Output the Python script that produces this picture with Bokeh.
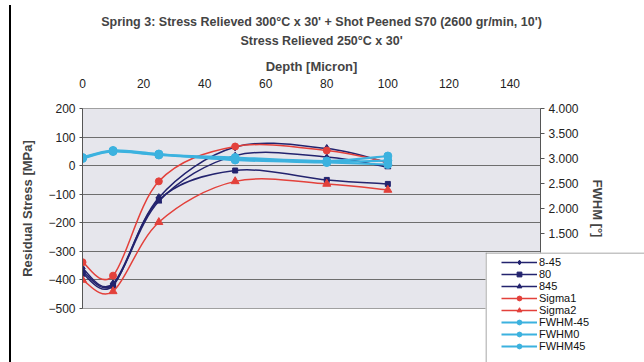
from bokeh.plotting import figure
from bokeh.models import (Range1d, LinearAxis, FixedTicker, NumeralTickFormatter,
                          Legend, LegendItem, ColumnDataSource, Span, Div, Label)
from bokeh.embed import file_html
from bokeh.resources import INLINE

# ---------------- data ----------------
depth = [0, 10, 25, 50, 80, 100]
b_m45 = [-360, -413, -112, 65, 60, 10]
b_0 = [-378, -420, -120, -17, -50, -64]
b_45 = [-370, -416, -125, 35, 30, -5]
sigma1 = [-338, -385, -55, 67, 53, 12]
sigma2 = [-400, -440, -198, -55, -64, -85]
fwhm_m45 = [3.01, 3.15, 3.08, 3.02, 2.95, 3.05]
fwhm_0 = [3.00, 3.14, 3.07, 2.99, 2.93, 2.96]
fwhm_45 = [3.02, 3.16, 3.09, 2.97, 2.92, 2.88]

x_ticks = [0, 20, 40, 60, 80, 100, 120, 140]
left_ticks = [-500, -400, -300, -200, -100, 0, 100, 200]
right_ticks = [0, 0.5, 1.0, 1.5, 2.0, 2.5, 3.0, 3.5, 4.0]

title1 = "Spring 3: Stress Relieved 300\u00b0C x 30' + Shot Peened S70 (2600 gr/min, 10')"
title2 = "Stress Relieved 250\u00b0C x 30'"

NAVY = "#23236e"
RED = "#e3413b"
CYAN = "#3cb2df"
FONT = "Liberation Sans"

p = figure(width=644, height=362, output_backend="svg", toolbar_location=None,
           x_range=Range1d(0, 150), y_range=Range1d(-500, 200),
           x_axis_location="above", title=None,
           min_border_left=82, min_border_right=104, min_border_top=108,
           min_border_bottom=54)
p.extra_y_ranges = {"fwhm": Range1d(0, 4)}

p.background_fill_color = "#e6e6ec"
p.border_fill_color = "white"
p.outline_line_color = "#a0a0a0"
p.xgrid.grid_line_color = None
p.ygrid.grid_line_color = "#6e6e6e"
p.ygrid.ticker = FixedTicker(ticks=left_ticks)

# top (x) axis
xa = p.xaxis[0]
xa.ticker = FixedTicker(ticks=x_ticks)
xa.axis_label = "Depth [Micron]"
xa.axis_label_text_font = FONT
xa.axis_label_text_font_style = "bold"
xa.axis_label_text_font_size = "13px"
xa.axis_label_standoff = 2
xa.major_label_text_font = FONT
xa.major_label_text_font_size = "12px"
xa.major_label_text_color = "#222222"
xa.major_label_standoff = 21
xa.major_tick_out = 0
xa.major_tick_in = 0
xa.minor_tick_out = 0
xa.minor_tick_in = 0
xa.axis_line_color = None

# left axis
ya = p.yaxis[0]
ya.ticker = FixedTicker(ticks=left_ticks)
ya.axis_label = "Residual Stress [MPa]"
ya.axis_label_text_font = FONT
ya.axis_label_text_font_style = "bold"
ya.axis_label_text_font_size = "13px"
ya.axis_label_standoff = 10
ya.major_label_text_font = FONT
ya.major_label_text_font_size = "12px"
ya.major_label_text_color = "#222222"
ya.major_label_standoff = 4
ya.major_tick_out = 3
ya.major_tick_in = 0
ya.minor_tick_out = 0
ya.minor_tick_in = 0
ya.axis_line_color = "#555555"
ya.major_tick_line_color = "#555555"

# right axis
ra = LinearAxis(y_range_name="fwhm", ticker=FixedTicker(ticks=right_ticks),
                formatter=NumeralTickFormatter(format="0.000"),
                axis_label="FWHM [\u00b0]")
ra.axis_label_text_font = FONT
ra.axis_label_text_font_style = "bold"
ra.axis_label_text_font_size = "13px"
ra.axis_label_standoff = 8
ra.major_label_text_font = FONT
ra.major_label_text_font_size = "12px"
ra.major_label_text_color = "#222222"
ra.major_label_standoff = 4
ra.major_tick_out = 4
ra.major_tick_in = 0
ra.minor_tick_out = 0
ra.minor_tick_in = 0
ra.axis_line_color = "#555555"
ra.major_tick_line_color = "#555555"
p.add_layout(ra, "right")


def smooth_source(xs, ys):
    """Catmull-Rom style bezier segments through the data points (Excel 'smoothed line')."""
    n = len(xs)
    d = dict(x0=[], y0=[], x1=[], y1=[], cx0=[], cy0=[], cx1=[], cy1=[])
    for i in range(n - 1):
        xm, ym = (xs[i - 1], ys[i - 1]) if i > 0 else (xs[i], ys[i])
        xp, yp = (xs[i + 2], ys[i + 2]) if i + 2 < n else (xs[i + 1], ys[i + 1])
        d["x0"].append(xs[i]); d["y0"].append(ys[i])
        d["x1"].append(xs[i + 1]); d["y1"].append(ys[i + 1])
        d["cx0"].append(xs[i] + (xs[i + 1] - xm) / 6.0)
        d["cy0"].append(ys[i] + (ys[i + 1] - ym) / 6.0)
        d["cx1"].append(xs[i + 1] - (xp - xs[i]) / 6.0)
        d["cy1"].append(ys[i + 1] - (yp - ys[i]) / 6.0)
    return d


series = [
    ("8-45", b_m45, NAVY, "diamond", 8, 1.5, "default"),
    ("80", b_0, NAVY, "square", 5, 1.5, "default"),
    ("845", b_45, NAVY, "triangle", 6, 1.5, "default"),
    ("Sigma1", sigma1, RED, "circle", 7, 1.5, "default"),
    ("Sigma2", sigma2, RED, "triangle", 8, 1.5, "default"),
    ("FWHM-45", fwhm_m45, CYAN, "circle", 8, 2.2, "fwhm"),
    ("FWHM0", fwhm_0, CYAN, "circle", 8, 2.2, "fwhm"),
    ("FWHM45", fwhm_45, CYAN, "circle", 8, 2.2, "fwhm"),
]

# ---- legend panel (overlaps the lower-right corner of the chart, as in the original)
lg = figure(width=159, height=110, output_backend="svg", toolbar_location=None,
            x_range=Range1d(0, 159), y_range=Range1d(0, 110),
            x_axis_type=None, y_axis_type=None, title=None,
            min_border=0, min_border_left=0, min_border_right=0,
            min_border_top=0, min_border_bottom=0,
            styles={"position": "absolute", "left": "485px", "top": "252px"})
lg.xgrid.grid_line_color = None
lg.ygrid.grid_line_color = None
lg.outline_line_color = None
lg.background_fill_color = "white"
lg.border_fill_color = "white"
lg.add_layout(Span(location=0.5, dimension="height", line_color="#8a8a8a", line_width=1))
lg.add_layout(Span(location=109.5, dimension="width", line_color="#8a8a8a", line_width=1))

items = []
for name, ys, col, mk, sz, lw, rng in series:
    d = smooth_source(depth, ys)
    p.bezier(x0="x0", y0="y0", x1="x1", y1="y1", cx0="cx0", cy0="cy0",
             cx1="cx1", cy1="cy1", source=ColumnDataSource(d), line_color=col,
             line_width=lw, y_range_name=rng)
    p.scatter(depth, ys, marker=mk, size=sz, fill_color=col, line_color=col,
              y_range_name=rng)
    # same series, hidden, so the legend panel can draw its sample
    lb = lg.line(depth, ys, line_color=col, line_width=lw, visible=False)
    ls = lg.scatter(depth, ys, marker=mk, size=sz - 1, fill_color=col, line_color=col,
                    visible=False)
    items.append(LegendItem(label=name, renderers=[lb, ls]))

legend = Legend(items=items, location=(16, 10), orientation="vertical",
                label_text_font=FONT, label_text_font_size="11px",
                label_text_color="#111111",
                label_height=12, glyph_height=12, glyph_width=36, label_width=60,
                label_standoff=2, spacing=0, padding=2, margin=0,
                border_line_color=None, background_fill_alpha=0.0,
                inactive_fill_alpha=0.0)
lg.add_layout(legend, "center")

# ---- chart title (two bold lines), drawn in a transparent strip over the top of the page
tf = figure(width=644, height=52, output_backend="svg", toolbar_location=None,
            x_range=Range1d(0, 644), y_range=Range1d(0, 52),
            x_axis_type=None, y_axis_type=None, title=None,
            min_border=0, min_border_left=0, min_border_right=0,
            min_border_top=0, min_border_bottom=0,
            styles={"position": "absolute", "left": "0px", "top": "0px"})
tf.xgrid.grid_line_color = None
tf.ygrid.grid_line_color = None
tf.outline_line_color = None
tf.background_fill_alpha = 0.0
tf.border_fill_alpha = 0.0
tf.add_layout(Label(x=321, y=31, text=title1, text_align="center", text_baseline="middle",
                    text_font=FONT, text_font_style="bold", text_font_size="12.5px"))
tf.add_layout(Label(x=321, y=12, text=title2, text_align="center", text_baseline="middle",
                    text_font=FONT, text_font_style="bold", text_font_size="12.5px"))

# left frame edge of the original chart object
edge = Div(text="", width=2, height=362,
           styles={"position": "absolute", "left": "4px", "top": "0px",
                   "background-color": "#000000"})

open("out.html", "w").write(file_html([p, lg, tf, edge], INLINE))
